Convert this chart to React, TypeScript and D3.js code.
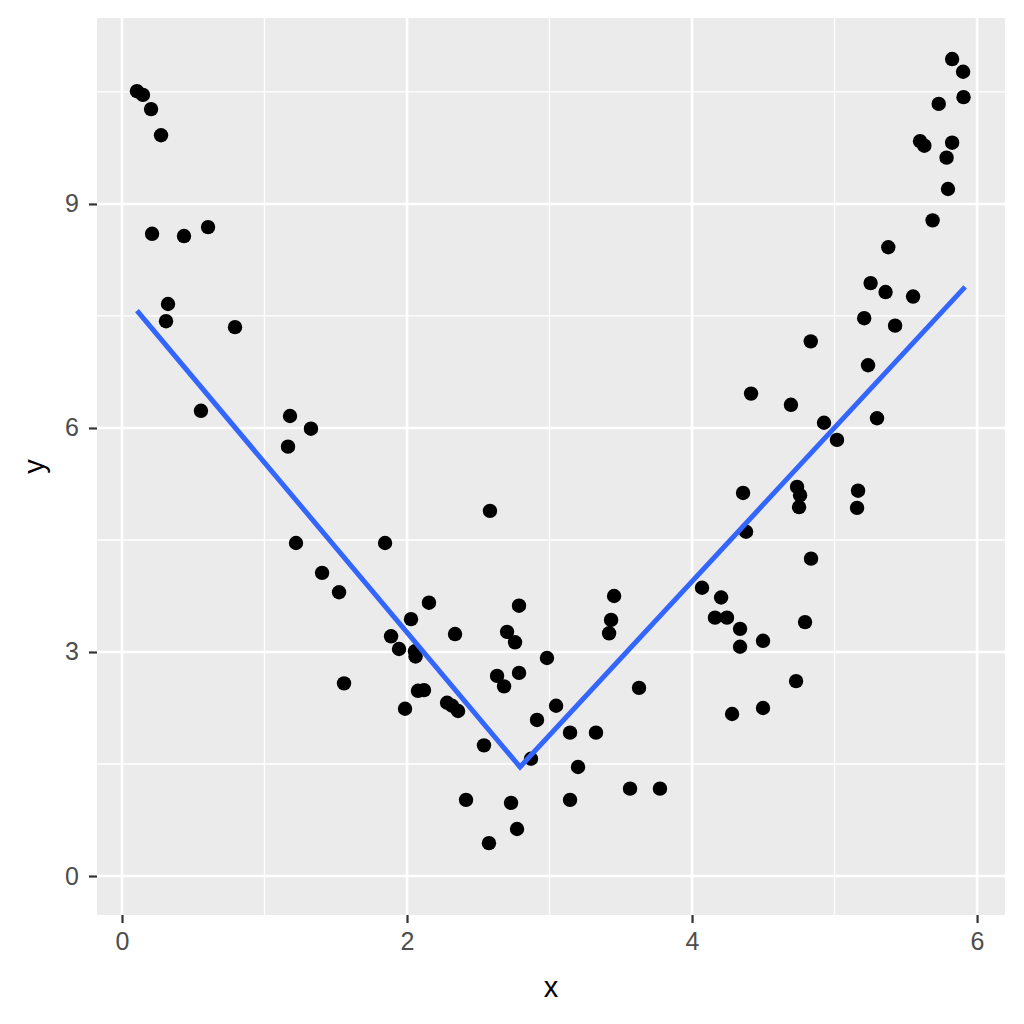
import React, { useRef, useEffect } from 'react';
import * as d3 from 'd3';

// scatter points
const xs = [
  0.105, 0.147, 0.204, 0.274, 0.211, 0.435, 0.604, 0.323, 0.309, 0.793,
  0.554, 1.179, 1.326, 1.165, 1.221, 1.404, 1.523, 1.558, 1.846, 2.154,
  2.028, 1.888, 1.944, 2.056, 2.337, 1.986, 2.077, 2.119, 2.281, 2.316,
  2.358, 2.54, 2.414, 2.575, 2.582, 2.632, 2.681, 2.702, 2.786, 2.758,
  2.786, 2.87, 2.73, 2.772, 2.912, 2.982, 3.046, 3.144, 3.2, 3.144,
  3.326, 3.453, 3.432, 3.418, 3.628, 3.565, 3.775, 4.07, 4.204, 4.161,
  4.245, 4.337, 4.337, 4.498, 4.793, 4.73, 4.498, 4.281, 4.414, 4.694,
  4.926, 5.017, 5.235, 5.298, 4.358, 4.737, 4.758, 4.751, 5.165, 5.158,
  4.379, 4.835, 5.825, 5.902, 5.905, 5.731, 5.6, 5.63, 5.825, 5.786,
  5.796, 5.688, 5.377, 5.253, 5.358, 5.551, 5.208, 5.425, 4.833, 2.06,
];
const ys = [
  10.51, 10.46, 10.27, 9.92, 8.6, 8.57, 8.69, 7.66, 7.43, 7.35,
  6.23, 6.16, 5.99, 5.75, 4.46, 4.06, 3.8, 2.58, 4.46, 3.66,
  3.44, 3.21, 3.04, 3.01, 3.24, 2.24, 2.48, 2.49, 2.32, 2.28,
  2.21, 1.75, 1.02, 0.44, 4.89, 2.68, 2.54, 3.27, 3.62, 3.13,
  2.72, 1.57, 0.98, 0.63, 2.09, 2.92, 2.28, 1.92, 1.46, 1.02,
  1.92, 3.75, 3.43, 3.25, 2.52, 1.17, 1.17, 3.86, 3.73, 3.46,
  3.46, 3.31, 3.07, 3.15, 3.4, 2.61, 2.25, 2.17, 6.46, 6.31,
  6.07, 5.84, 6.84, 6.13, 5.13, 5.21, 5.1, 4.94, 5.16, 4.93,
  4.61, 4.25, 10.94, 10.77, 10.43, 10.34, 9.84, 9.78, 9.82, 9.62,
  9.2, 8.78, 8.42, 7.94, 7.82, 7.76, 7.47, 7.37, 7.16, 2.94,
];

// fitted piecewise line
const fitX = [0.105, 2.793, 5.916];
const fitY = [7.57, 1.46, 7.89];

const xTicks = [0, 2, 4, 6];
const xMinor = [1, 3, 5];
const yTicks = [0, 3, 6, 9];
const yMinor = [1.5, 4.5, 7.5, 10.5];

const FONT = 'Liberation Sans, Arial, sans-serif';

const App = () => {
  const svgRef = useRef<SVGSVGElement>(null);

  useEffect(() => {
    const svg = d3.select(svgRef.current);
    svg.selectAll('*').remove();

    const margin = { left: 97, right: 19, top: 18, bottom: 109 };
    const width = 1024 - margin.left - margin.right;
    const height = 1024 - margin.top - margin.bottom;

    const x = d3.scaleLinear().domain([-0.1754, 6.196]).range([0, width]);
    const y = d3.scaleLinear().domain([-0.522, 11.49]).range([height, 0]);

    const g = svg
      .append('g')
      .attr('transform', `translate(${margin.left}, ${margin.top})`);

    // panel background
    g.append('rect')
      .attr('width', width)
      .attr('height', height)
      .attr('fill', '#EBEBEB');

    // minor grid
    g.selectAll('.vminor')
      .data(xMinor)
      .enter()
      .append('line')
      .attr('x1', (d) => x(d))
      .attr('x2', (d) => x(d))
      .attr('y1', 0)
      .attr('y2', height)
      .attr('stroke', '#fff')
      .attr('stroke-width', 1.3);
    g.selectAll('.hminor')
      .data(yMinor)
      .enter()
      .append('line')
      .attr('y1', (d) => y(d))
      .attr('y2', (d) => y(d))
      .attr('x1', 0)
      .attr('x2', width)
      .attr('stroke', '#fff')
      .attr('stroke-width', 1.3);

    // major grid
    g.selectAll('.vmajor')
      .data(xTicks)
      .enter()
      .append('line')
      .attr('x1', (d) => x(d))
      .attr('x2', (d) => x(d))
      .attr('y1', 0)
      .attr('y2', height)
      .attr('stroke', '#fff')
      .attr('stroke-width', 2.6);
    g.selectAll('.hmajor')
      .data(yTicks)
      .enter()
      .append('line')
      .attr('y1', (d) => y(d))
      .attr('y2', (d) => y(d))
      .attr('x1', 0)
      .attr('x2', width)
      .attr('stroke', '#fff')
      .attr('stroke-width', 2.6);

    // points
    const pts = xs.map((v, i) => ({ x: v, y: ys[i] }));
    g.selectAll('circle')
      .data(pts)
      .enter()
      .append('circle')
      .attr('cx', (d) => x(d.x))
      .attr('cy', (d) => y(d.y))
      .attr('r', 7.2)
      .attr('fill', '#000');

    // fit line
    const line = d3
      .line<number>()
      .x((d) => x(d))
      .y((_, i) => y(fitY[i]));
    g.append('path')
      .attr('d', line(fitX))
      .attr('fill', 'none')
      .attr('stroke', '#3366FF')
      .attr('stroke-width', 5);

    // axes
    const xAxis = g
      .append('g')
      .attr('transform', `translate(0, ${height})`)
      .call(
        d3
          .axisBottom(x)
          .tickValues(xTicks)
          .tickFormat(d3.format('d'))
          .tickSize(8)
          .tickPadding(9)
      );
    const yAxis = g
      .append('g')
      .call(
        d3
          .axisLeft(y)
          .tickValues(yTicks)
          .tickFormat(d3.format('d'))
          .tickSize(8)
          .tickPadding(10)
      );

    [xAxis, yAxis].forEach((a) => {
      a.select('.domain').remove();
      a.selectAll('line').attr('stroke', '#333').attr('stroke-width', 2.2);
      a.selectAll('text')
        .attr('fill', '#4D4D4D')
        .attr('font-size', 25)
        .attr('font-family', FONT);
    });

    // axis titles
    svg
      .append('text')
      .attr('x', margin.left + width / 2)
      .attr('y', 997)
      .attr('text-anchor', 'middle')
      .attr('font-size', 29)
      .attr('font-family', FONT)
      .text('x');
    svg
      .append('text')
      .attr('transform', `translate(44, ${margin.top + height / 2}) rotate(-90)`)
      .attr('text-anchor', 'middle')
      .attr('font-size', 29)
      .attr('font-family', FONT)
      .text('y');
  }, []);

  return (
    <svg
      ref={svgRef}
      width={1024}
      height={1024}
      style={{ position: 'absolute', left: 0, top: 0, background: '#fff' }}
    />
  );
};

export default App;
